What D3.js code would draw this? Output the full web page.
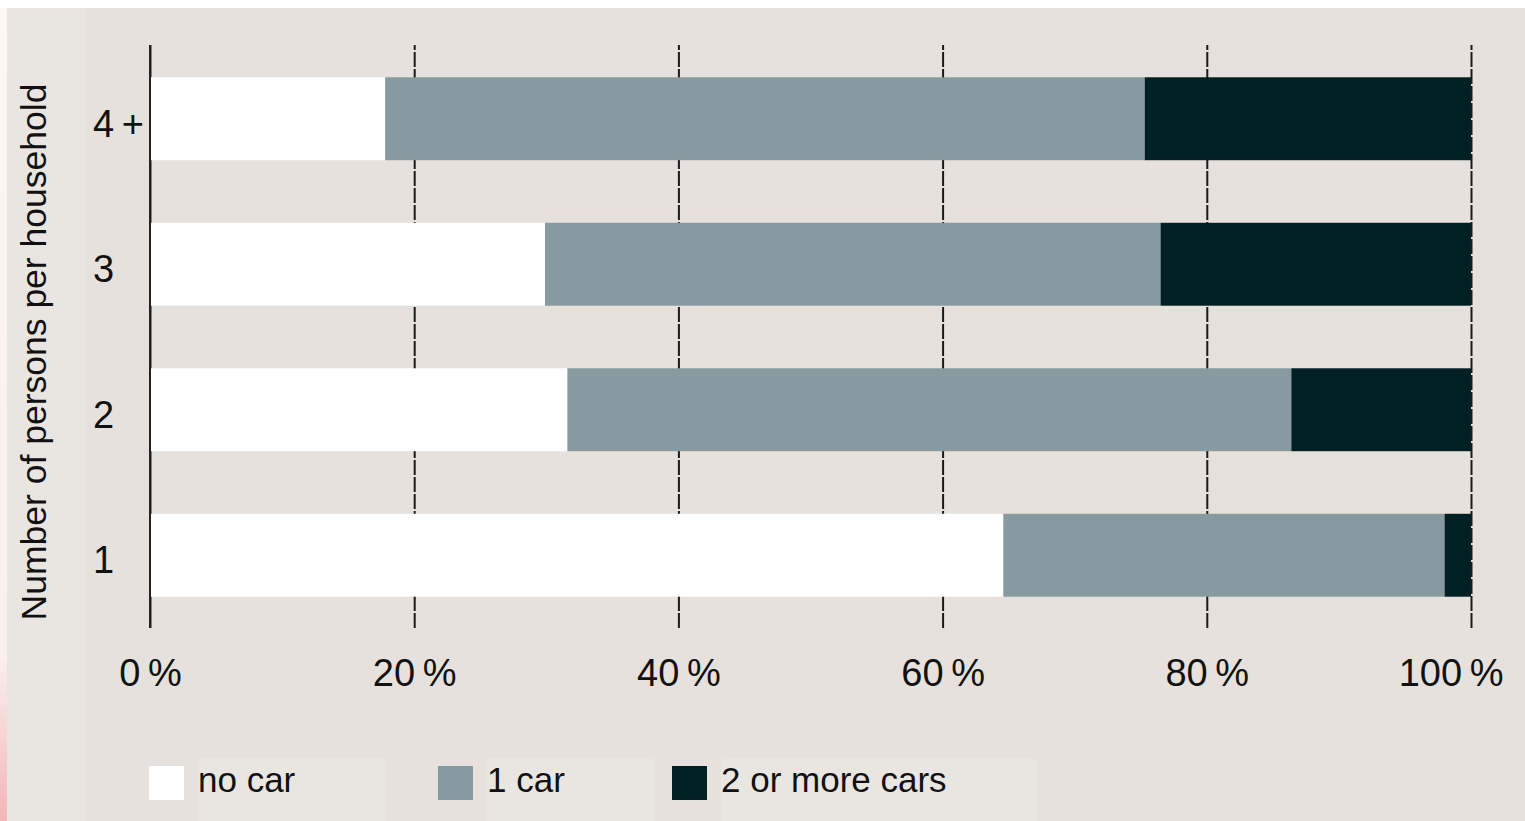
<!DOCTYPE html>
<html>
<head>
<meta charset="utf-8">
<script src="https://cdnjs.cloudflare.com/ajax/libs/d3/7.8.5/d3.min.js"></script>
<style>
  body { margin: 0; background: #fff; }
  svg { display: block; font-family: "Liberation Sans", Arial, sans-serif; }
</style>
</head>
<body>
<script>
// Data
var categories = ['4+', '3', '2', '1'];
var noCar = [17.8, 29.9, 31.6, 64.6];
var oneCar = [57.5, 46.6, 54.8, 33.4];
var twoPlusCars = [24.7, 23.5, 13.6, 2.0];
var seriesNames = ['no car', '1 car', '2 or more cars'];
var seriesKeys = ['noCar', 'oneCar', 'twoPlus'];
var xTicks = [0, 20, 40, 60, 80, 100];

// Layout
var width = 1525;
var height = 821;
var panelColor = '#e6e1dc';
var lightColor = '#e9e6e2';
var colors = ['#ffffff', '#879a9f', '#012023'];
var plotLeft = 150, plotRight = 1471, plotTop = 45, plotBottom = 628;
var legendX = [149, 438, 672];

var rows = categories.map(function(c, i) {
    return { category: c, noCar: noCar[i], oneCar: oneCar[i], twoPlus: twoPlusCars[i] };
});

var svg = d3.select('body').append('svg')
    .attr('width', width)
    .attr('height', height);

// Background
var defs = svg.append('defs');
var grad = defs.append('linearGradient')
    .attr('id', 'edge')
    .attr('x1', 0).attr('y1', 0).attr('x2', 0).attr('y2', 1);
grad.append('stop').attr('offset', '0%').attr('stop-color', '#fdf7f7');
grad.append('stop').attr('offset', '80%').attr('stop-color', '#fbeeee');
grad.append('stop').attr('offset', '100%').attr('stop-color', '#f2b6b9');

svg.append('rect').attr('width', width).attr('height', height).attr('fill', '#ffffff');
svg.append('rect').attr('x', 0).attr('y', 8).attr('width', 7).attr('height', height - 8)
    .attr('fill', 'url(#edge)');
svg.append('rect').attr('x', 7).attr('y', 8).attr('width', width - 7).attr('height', height - 8)
    .attr('fill', panelColor);
svg.append('rect').attr('x', 7).attr('y', 8).attr('width', 79).attr('height', height - 8)
    .attr('fill', lightColor);

// Scales
var x = d3.scaleLinear().domain([0, 100]).range([plotLeft, plotRight]);
var y = d3.scaleBand().domain(categories)
    .range([plotTop + 1, plotBottom])
    .paddingInner(0.43)
    .paddingOuter(0.215);

// Grid / x axis
var xAxis = d3.axisBottom(x)
    .tickValues(xTicks)
    .tickSizeInner(-(plotBottom - plotTop))
    .tickSizeOuter(0)
    .tickFormat(function(d) { return d + '\u2009%'; });

var gx = svg.append('g')
    .attr('transform', 'translate(0,' + plotBottom + ')')
    .call(xAxis);
gx.select('.domain').remove();
gx.selectAll('.tick line')
    .attr('stroke', '#1a1a1a')
    .attr('stroke-width', 2)
    .attr('stroke-dasharray', function(d) { return d === 0 ? null : '15,2'; });
gx.selectAll('.tick text')
    .attr('y', 58)
    .attr('dy', 0)
    .attr('fill', '#111')
    .attr('font-size', 38);
// keep the last label inside the panel
gx.selectAll('.tick text').each(function(d) {
    var bb = this.getBBox();
    var right = x(d) + bb.width / 2;
    if (right > width - 22) {
        d3.select(this).attr('x', (width - 22) - right);
    }
});

// Bars
var stack = d3.stack().keys(seriesKeys);
var layers = stack(rows);

svg.append('g').selectAll('g')
    .data(layers)
    .join('g')
    .attr('fill', function(d, i) { return colors[i]; })
    .selectAll('rect')
    .data(function(d) { return d; })
    .join('rect')
    .attr('x', function(d) { return x(d[0]); })
    .attr('width', function(d) { return x(d[1]) - x(d[0]); })
    .attr('y', function(d) { return y(d.data.category); })
    .attr('height', y.bandwidth());

// 0 % axis line on top
svg.append('line')
    .attr('x1', x(0)).attr('x2', x(0))
    .attr('y1', plotTop).attr('y2', plotBottom)
    .attr('stroke', '#222').attr('stroke-width', 2);

// Category labels
svg.append('g').selectAll('text')
    .data(categories)
    .join('text')
    .attr('x', 93)
    .attr('y', function(d) { return y(d) + y.bandwidth() / 2 + 18; })
    .attr('font-size', 38)
    .attr('letter-spacing', '0.2em')
    .attr('fill', '#111')
    .text(function(d) { return d; });

// Y title
svg.append('text')
    .attr('transform', 'translate(46,352) rotate(-90)')
    .attr('text-anchor', 'middle')
    .attr('font-size', 35.5)
    .attr('fill', '#111')
    .text('Number of persons per household');

// Legend
var legend = svg.append('g').selectAll('g')
    .data(seriesNames)
    .join('g')
    .attr('transform', function(d, i) { return 'translate(' + legendX[i] + ',0)'; });

legend.append('rect')
    .attr('class', 'lbox')
    .attr('x', 49).attr('y', 759)
    .attr('height', height - 759)
    .attr('fill', lightColor);
legend.append('rect')
    .attr('x', 0).attr('y', 766)
    .attr('width', 35).attr('height', 34)
    .attr('fill', function(d, i) { return colors[i]; });
legend.append('text')
    .attr('x', 49).attr('y', 792)
    .attr('font-size', 35)
    .attr('fill', '#111')
    .text(function(d) { return d; });
legend.each(function() {
    var g = d3.select(this);
    var w = g.select('text').node().getBBox().width;
    g.select('.lbox').attr('width', w + 90);
});
</script>
</body>
</html>
